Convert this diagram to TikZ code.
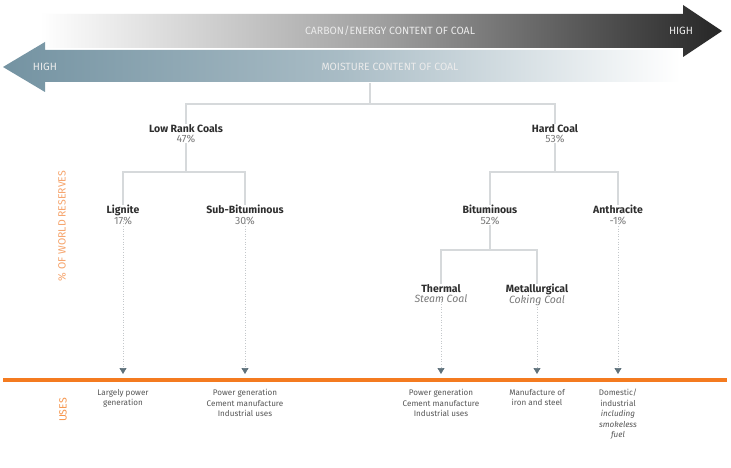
\documentclass[tikz,border=0pt]{standalone}
\usepackage{fontspec}
\setmainfont{Fira Sans}
\usetikzlibrary{arrows.meta}
\definecolor{conn}{HTML}{D6D9DB}
\definecolor{dotc}{HTML}{C4C8CB}
\definecolor{tri}{HTML}{5E717B}
\definecolor{orng}{HTML}{F47B20}
\definecolor{orngl}{HTML}{F6A36A}
\definecolor{steel}{HTML}{7493A2}
\definecolor{darkg}{HTML}{262626}
\definecolor{lbl}{HTML}{2E2E2E}
\definecolor{pct}{HTML}{7A7A7A}
\definecolor{usec}{HTML}{555555}
\begin{document}
\begin{tikzpicture}[x=1pt,y=-1pt,
  coal/.style={align=center,anchor=north,inner sep=0pt,font=\fontsize{10.5}{11.5}\selectfont,text=lbl},
  usetxt/.style={align=center,anchor=north,inner sep=0pt,font=\fontsize{8.1}{10.5}\selectfont,text=usec},
  connect/.style={draw=conn,line width=1.4pt},
  dotline/.style={draw=dotc,line width=0.7pt,dash pattern=on 1pt off 1.6pt,-{Triangle[width=7pt,length=6pt,color=tri]}},
  bartxt/.style={inner sep=0pt,font=\fontsize{10.5}{11}\selectfont,text=white!92!black},
  axislbl/.style={inner sep=0pt,rotate=90,font=\fontsize{10.5}{11}\selectfont}
]
\useasboundingbox (0,0) rectangle (731,468);
\fill[white] (0,0) rectangle (731,468);

% carbon arrow
\shade[left color=white,right color=darkg,middle color=gray!75]
  (40,14) -- (683,14) -- (683,5) -- (722,31) -- (683,57) -- (683,48) -- (40,48) -- cycle;
\node[bartxt] (carbon) at (390,31) {CARBON/ENERGY CONTENT OF COAL};
\node[bartxt] (highr) at (681,31) {HIGH};

% moisture arrow
\shade[left color=steel,right color=white,middle color=steel!62]
  (680,50) -- (45,50) -- (45,42) -- (3,67) -- (45,92) -- (45,82) -- (680,82) -- cycle;
\node[bartxt] (moist) at (390,67) {MOISTURE CONTENT OF COAL};
\node[bartxt] (highl) at (45,67) {HIGH};

% tree nodes
\node[coal] (low) at (186,124) {\textbf{Low Rank Coals}\\[-1pt]{\color{pct}47\%}};
\node[coal] (hard) at (555,124) {\textbf{Hard Coal}\\[-1pt]{\color{pct}53\%}};
\node[coal] (lig) at (123,205) {\textbf{Lignite}\\[-1pt]{\color{pct}17\%}};
\node[coal] (sub) at (245,205) {\textbf{Sub-Bituminous}\\[-1pt]{\color{pct}30\%}};
\node[coal] (bit) at (490,205) {\textbf{Bituminous}\\[-1pt]{\color{pct}52\%}};
\node[coal] (ant) at (618,205) {\textbf{Anthracite}\\[-1pt]{\color{pct}-1\%}};
\node[coal] (the) at (441,284) {\textbf{Thermal}\\[-1pt]{\color{pct}\itshape Steam Coal}};
\node[coal] (met) at (537,284) {\textbf{Metallurgical}\\[-1pt]{\color{pct}\itshape Coking Coal}};

\coordinate (root) at (370,83);
\coordinate (j1) at (370,104);
\coordinate (j2) at (186,172);
\coordinate (j3) at (555,172);
\coordinate (j4) at (490,250);

\draw[connect] (root) -- (j1) -| (low.north);
\draw[connect] (j1) -| (hard.north);
\draw[connect] (low.south) -- (j2) -| (lig.north);
\draw[connect] (j2) -| (sub.north);
\draw[connect] (hard.south) -- (j3) -| (bit.north);
\draw[connect] (j3) -| (ant.north);
\draw[connect] (bit.south) -- (j4) -| (the.north);
\draw[connect] (j4) -| (met.north);

% uses line
\coordinate (ol) at (3,380);
\coordinate (or) at (727,380);
\draw[orng,line width=4pt] (ol) -- (or);

\coordinate (a1) at (123,374);
\coordinate (a2) at (245,374);
\coordinate (a3) at (441,374);
\coordinate (a4) at (537,374);
\coordinate (a5) at (618,374);
\draw[dotline] ([yshift=4pt]lig.south) -- (a1);
\draw[dotline] ([yshift=4pt]sub.south) -- (a2);
\draw[dotline] ([yshift=4pt]the.south) -- (a3);
\draw[dotline] ([yshift=4pt]met.south) -- (a4);
\draw[dotline] ([yshift=4pt]ant.south) -- (a5);

\node[usetxt] (u1) at (123,389) {Largely power\\generation};
\node[usetxt] (u2) at (245,389) {Power generation\\Cement manufacture\\Industrial uses};
\node[usetxt] (u3) at (441,389) {Power generation\\Cement manufacture\\Industrial uses};
\node[usetxt] (u4) at (537,389) {Manufacture of\\iron and steel};
\node[usetxt] (u5) at (618,389) {Domestic/\\industrial\\\itshape including\\\itshape smokeless\\\itshape fuel};

\node[axislbl,text=orngl] (res) at (62,226) {\% OF WORLD RESERVES};
\node[axislbl,text=orng!80] (uses) at (63,410) {USES};
\end{tikzpicture}
\end{document}
